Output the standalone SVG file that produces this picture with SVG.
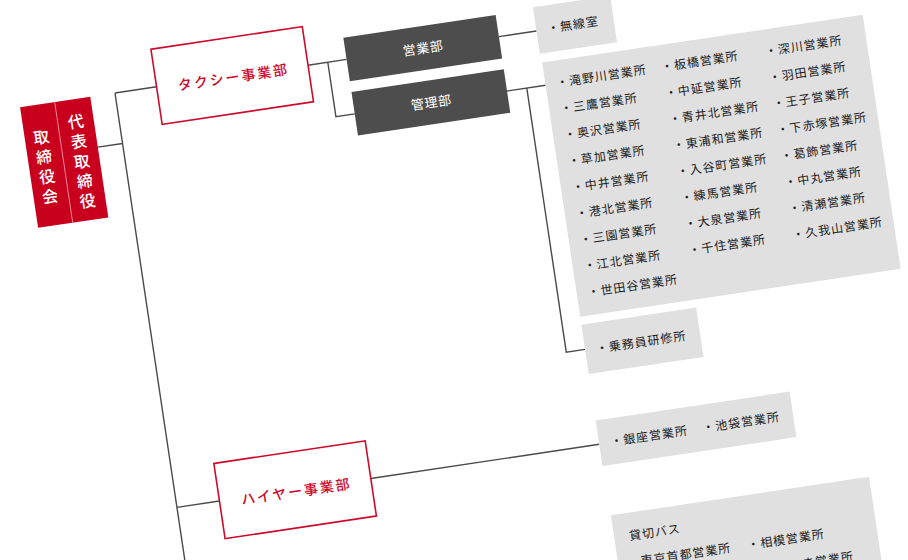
<svg xmlns="http://www.w3.org/2000/svg" width="908" height="560" viewBox="0 0 908 560">
<style>
.ln{fill:none;stroke:#4a4a4a;stroke-width:1.4}
.gray{fill:#e0e0e0}
.dark{fill:#4d4d4d}
.redbox{fill:#ffffff;stroke:#cc0a2a;stroke-width:1.6}
.t{font-family:"Noto Sans CJK JP","Noto Sans",sans-serif;font-size:12px;letter-spacing:1px;fill:#222222}
.tw{font-family:"Noto Sans CJK JP","Noto Sans",sans-serif;font-size:13px;letter-spacing:0.6px;fill:#ffffff;text-anchor:middle}
.tr{font-family:"Noto Sans CJK JP","Noto Sans",sans-serif;font-size:14px;font-weight:500;letter-spacing:2px;fill:#cc0a2a;text-anchor:middle}
.tv{font-family:"Noto Sans CJK JP","Noto Sans",sans-serif;font-size:16px;font-weight:500;fill:#ffffff;text-anchor:middle}
</style>
<rect width="908" height="560" fill="#ffffff"/>
<g transform="rotate(-8.5)">
<g id="connectors">
<path class="ln" d="M75 160H100M100 109H142M100 109V720M100 528H143"/>
<path class="ln" d="M295 110H334M315 110V165H334"/>
<path class="ln" d="M488 110H526M488 165H527M508 165V432H527"/>
<path class="ln" d="M296 528H527"/>
</g>
<g id="board">
<rect x="4" y="109" width="71" height="122" fill="#c8001e"/>
<line x1="39" y1="109" x2="39" y2="231" stroke="#f2a0a8" stroke-width="0.8"/>
<text class="tv"><tspan x="20.5" y="147.6">取</tspan><tspan x="20.5" y="167.6">締</tspan><tspan x="20.5" y="187.6">役</tspan><tspan x="20.5" y="207.6">会</tspan></text>
<text class="tv"><tspan x="57" y="137.6">代</tspan><tspan x="57" y="157.6">表</tspan><tspan x="57" y="177.6">取</tspan><tspan x="57" y="197.6">締</tspan><tspan x="57" y="217.6">役</tspan></text>
</g>
<g id="taxi">
<rect class="redbox" x="142" y="71" width="153" height="76"/>
<text class="tr" x="219.5" y="116">タクシー事業部</text>
</g>
<g id="eigyo">
<rect class="dark" x="334" y="88" width="154" height="44"/>
<text class="tw" x="411.3" y="115">営業部</text>
</g>
<g id="kanri">
<rect class="dark" x="334" y="143" width="154" height="44"/>
<text class="tw" x="411.3" y="170">管理部</text>
</g>
<g id="musen">
<rect class="gray" x="526" y="86" width="78" height="47"/>
<text class="t" x="537" y="113.5">・無線室</text>
</g>
<g id="offices">
<rect class="gray" x="527" y="142" width="324" height="257"/>
<text class="t" x="538" y="168.5">・滝野川営業所</text>
<text class="t" x="538" y="195">・三鷹営業所</text>
<text class="t" x="538" y="221.5">・奥沢営業所</text>
<text class="t" x="538" y="248">・草加営業所</text>
<text class="t" x="538" y="274.5">・中井営業所</text>
<text class="t" x="538" y="301">・港北営業所</text>
<text class="t" x="538" y="327.5">・三園営業所</text>
<text class="t" x="538" y="354">・江北営業所</text>
<text class="t" x="538" y="380.5">・世田谷営業所</text>
<text class="t" x="644" y="168.5">・板橋営業所</text>
<text class="t" x="644" y="195">・中延営業所</text>
<text class="t" x="644" y="221.5">・青井北営業所</text>
<text class="t" x="644" y="248">・東浦和営業所</text>
<text class="t" x="644" y="274.5">・入谷町営業所</text>
<text class="t" x="644" y="301">・練馬営業所</text>
<text class="t" x="644" y="327.5">・大泉営業所</text>
<text class="t" x="644" y="354">・千住営業所</text>
<text class="t" x="749" y="168.5">・深川営業所</text>
<text class="t" x="749" y="195">・羽田営業所</text>
<text class="t" x="749" y="221.5">・王子営業所</text>
<text class="t" x="749" y="248">・下赤塚営業所</text>
<text class="t" x="749" y="274.5">・葛飾営業所</text>
<text class="t" x="749" y="301">・中丸営業所</text>
<text class="t" x="749" y="327.5">・清瀬営業所</text>
<text class="t" x="749" y="354">・久我山営業所</text>
</g>
<g id="training">
<rect class="gray" x="527" y="407" width="116" height="50"/>
<text class="t" x="538" y="437.5">・乗務員研修所</text>
</g>
<g id="hire">
<rect class="redbox" x="143" y="490" width="153" height="76"/>
<text class="tr" x="220.5" y="535">ハイヤー事業部</text>
</g>
<g id="hire-offices">
<rect class="gray" x="527" y="504" width="196" height="46"/>
<text class="t" x="538.5" y="531.5">・銀座営業所</text>
<text class="t" x="631.5" y="531.5">・池袋営業所</text>
</g>
<g id="bus">
<rect class="gray" x="528" y="600" width="261" height="130"/>
<text class="t" x="543" y="627.5">貸切バス</text>
<text class="t" x="538" y="654">・東京首都営業所</text>
<text class="t" x="658.6" y="654">・相模営業所</text>
<text class="t" x="658.6" y="680.5">・さいたま営業所</text>
</g>
</g>
</svg>
